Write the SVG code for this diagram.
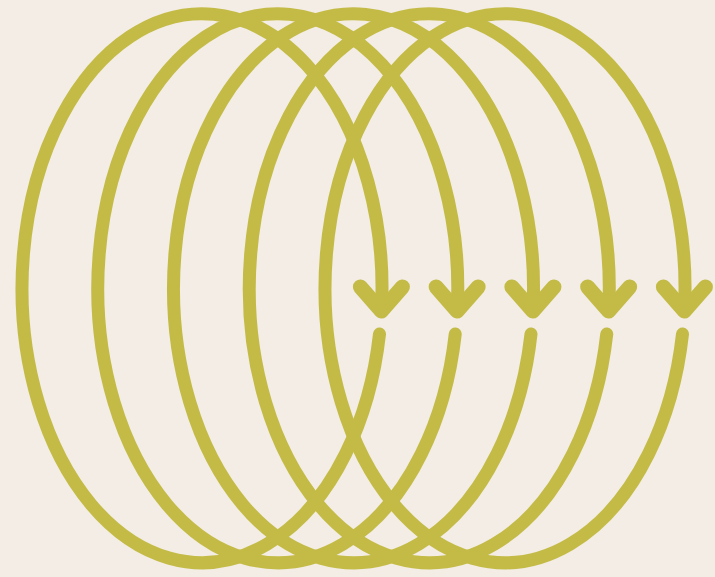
<svg xmlns="http://www.w3.org/2000/svg" xmlns:xlink="http://www.w3.org/1999/xlink" width="715" height="577" viewBox="0 0 715 577">
<style>
.loop{fill:none;stroke:#c4bb47;stroke-width:13;stroke-linecap:round;stroke-linejoin:round}
.loop use{stroke-width:15}
</style>
<defs>
<path id="chev" d="M-21,-24 L0,0 L21,-24"/>
</defs>
<rect width="715" height="577" fill="#f3ede5"/>
<g id="loop1" class="loop">
<path d="M379.5,334 A180,274.5 0 1 1 381.4,311"/>
<use href="#chev" xlink:href="#chev" x="381.4" y="311"/>
</g>
<g id="loop2" class="loop">
<path d="M455.25,334 A180,274.5 0 1 1 457.15,311"/>
<use href="#chev" xlink:href="#chev" x="457.15" y="311"/>
</g>
<g id="loop3" class="loop">
<path d="M531,334 A180,274.5 0 1 1 532.9,311"/>
<use href="#chev" xlink:href="#chev" x="532.9" y="311"/>
</g>
<g id="loop4" class="loop">
<path d="M606.75,334 A180,274.5 0 1 1 608.65,311"/>
<use href="#chev" xlink:href="#chev" x="608.65" y="311"/>
</g>
<g id="loop5" class="loop">
<path d="M682.5,334 A180,274.5 0 1 1 684.4,311"/>
<use href="#chev" xlink:href="#chev" x="684.4" y="311"/>
</g>
</svg>
